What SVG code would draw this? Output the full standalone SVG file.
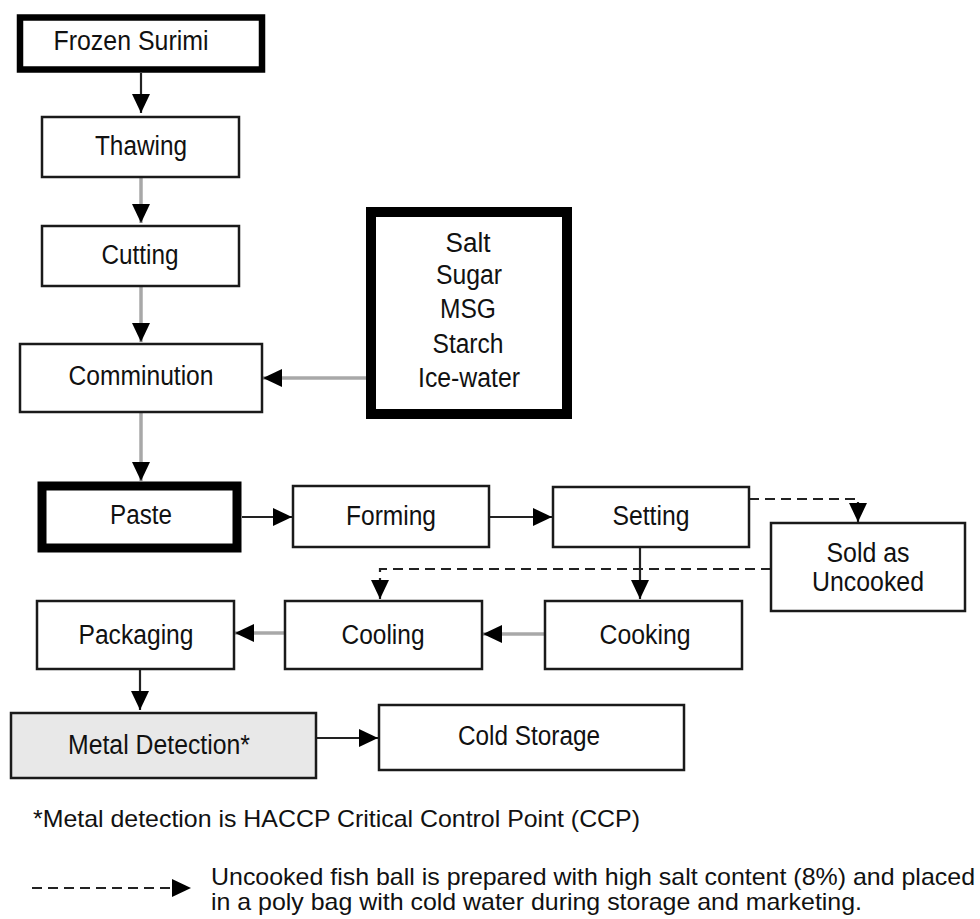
<svg xmlns="http://www.w3.org/2000/svg" width="980" height="919" viewBox="0 0 980 919">
<style>
  .box{fill:#fff;stroke:#1a1a1a;stroke-width:2.5}
  .thick{fill:#fff;stroke:#000}
  .lbl{font-family:"Liberation Sans",Arial,sans-serif;font-size:27px;fill:#111;text-anchor:middle}
  .note{font-family:"Liberation Sans",Arial,sans-serif;font-size:24px;fill:#111}
  .gray{stroke:#a8a8a8;stroke-width:3.5;fill:none}
  .dark{stroke:#222;stroke-width:2.2;fill:none}
  .dash{stroke:#222;stroke-width:2.2;fill:none;stroke-dasharray:10 6}
</style>
<defs>
  <marker id="ah" markerUnits="userSpaceOnUse" markerWidth="19" markerHeight="18" refX="19" refY="9" orient="auto">
    <path d="M0,0 L19,9 L0,18 z" fill="#000"/>
  </marker>
</defs>
<rect width="980" height="919" fill="#fff"/>

<g id="connectors">
  <path class="dark" d="M141,73 V113" marker-end="url(#ah)"/>
  <path class="gray" d="M141,177 V223" marker-end="url(#ah)"/>
  <path class="gray" d="M141,286 V342" marker-end="url(#ah)"/>
  <path class="gray" d="M366,378 H263" marker-end="url(#ah)"/>
  <path class="gray" d="M141,412 V481" marker-end="url(#ah)"/>
  <path class="dark" d="M242,517 H292" marker-end="url(#ah)"/>
  <path class="dark" d="M489,517 H552" marker-end="url(#ah)"/>
  <path class="dash" d="M749,499 H858 V522" marker-end="url(#ah)"/>
  <path class="dark" d="M640,547 V599" marker-end="url(#ah)"/>
  <path class="dash" d="M771,569 H380 V599" marker-end="url(#ah)"/>
  <path class="gray" d="M545,634 H483" marker-end="url(#ah)"/>
  <path class="gray" d="M285,633 H235" marker-end="url(#ah)"/>
  <path class="dark" d="M140,669 V710" marker-end="url(#ah)"/>
  <path class="dark" d="M316,738 H378" marker-end="url(#ah)"/>
</g>

<g id="frozen-surimi">
  <rect class="thick" x="20" y="17.5" width="242" height="52" stroke-width="6.5"/>
  <text class="lbl" x="131" y="50" textLength="155" lengthAdjust="spacingAndGlyphs">Frozen Surimi</text>
</g>
<g id="thawing">
  <rect class="box" x="42" y="117" width="197" height="60"/>
  <text class="lbl" x="141" y="155" textLength="92" lengthAdjust="spacingAndGlyphs">Thawing</text>
</g>
<g id="cutting">
  <rect class="box" x="42" y="226" width="197" height="60"/>
  <text class="lbl" x="140" y="264" textLength="77" lengthAdjust="spacingAndGlyphs">Cutting</text>
</g>
<g id="comminution">
  <rect class="box" x="20" y="344" width="242" height="68"/>
  <text class="lbl" x="141" y="385" textLength="145" lengthAdjust="spacingAndGlyphs">Comminution</text>
</g>
<g id="ingredients">
  <rect class="thick" x="371" y="212" width="196" height="202" stroke-width="10"/>
  <text class="lbl" x="468" y="252" textLength="45" lengthAdjust="spacingAndGlyphs">Salt</text>
  <text class="lbl" x="469" y="284" textLength="66" lengthAdjust="spacingAndGlyphs">Sugar</text>
  <text class="lbl" x="468" y="318" textLength="56" lengthAdjust="spacingAndGlyphs">MSG</text>
  <text class="lbl" x="468" y="353" textLength="71" lengthAdjust="spacingAndGlyphs">Starch</text>
  <text class="lbl" x="469" y="387" textLength="102" lengthAdjust="spacingAndGlyphs">Ice-water</text>
</g>
<g id="paste">
  <rect class="thick" x="42" y="486" width="195" height="62" stroke-width="9"/>
  <text class="lbl" x="141" y="524" textLength="62" lengthAdjust="spacingAndGlyphs">Paste</text>
</g>
<g id="forming">
  <rect class="box" x="293" y="486" width="196" height="61"/>
  <text class="lbl" x="391" y="525" textLength="90" lengthAdjust="spacingAndGlyphs">Forming</text>
</g>
<g id="setting">
  <rect class="box" x="553" y="487" width="196" height="60"/>
  <text class="lbl" x="651" y="525" textLength="77" lengthAdjust="spacingAndGlyphs">Setting</text>
</g>
<g id="sold-uncooked">
  <rect class="box" x="771" y="523" width="194" height="88"/>
  <text class="lbl" x="868" y="562" textLength="83" lengthAdjust="spacingAndGlyphs">Sold as</text>
  <text class="lbl" x="868" y="591" textLength="112" lengthAdjust="spacingAndGlyphs">Uncooked</text>
</g>
<g id="cooking">
  <rect class="box" x="545" y="601" width="197" height="68"/>
  <text class="lbl" x="645" y="644" textLength="91" lengthAdjust="spacingAndGlyphs">Cooking</text>
</g>
<g id="cooling">
  <rect class="box" x="285" y="601" width="197" height="68"/>
  <text class="lbl" x="383" y="644" textLength="83" lengthAdjust="spacingAndGlyphs">Cooling</text>
</g>
<g id="packaging">
  <rect class="box" x="37" y="601" width="197" height="68"/>
  <text class="lbl" x="136" y="644" textLength="115" lengthAdjust="spacingAndGlyphs">Packaging</text>
</g>
<g id="metal-detection">
  <rect class="box" x="11" y="713" width="305" height="65" style="fill:#e8e8e8"/>
  <text class="lbl" x="159" y="754" textLength="182" lengthAdjust="spacingAndGlyphs">Metal Detection*</text>
</g>
<g id="cold-storage">
  <rect class="box" x="379" y="705" width="305" height="65"/>
  <text class="lbl" x="529" y="745" textLength="142" lengthAdjust="spacingAndGlyphs">Cold Storage</text>
</g>

<g id="footnote">
  <text class="note" x="33" y="827" textLength="607" lengthAdjust="spacingAndGlyphs">*Metal detection is HACCP Critical Control Point (CCP)</text>
</g>
<g id="legend">
  <path class="dash" d="M32,888 H191" marker-end="url(#ah)"/>
  <text class="note" x="211" y="885" textLength="764" lengthAdjust="spacingAndGlyphs">Uncooked fish ball is prepared with high salt content (8%) and placed</text>
  <text class="note" x="211" y="910" textLength="651" lengthAdjust="spacingAndGlyphs">in a poly bag with cold water during storage and marketing.</text>
</g>
</svg>
